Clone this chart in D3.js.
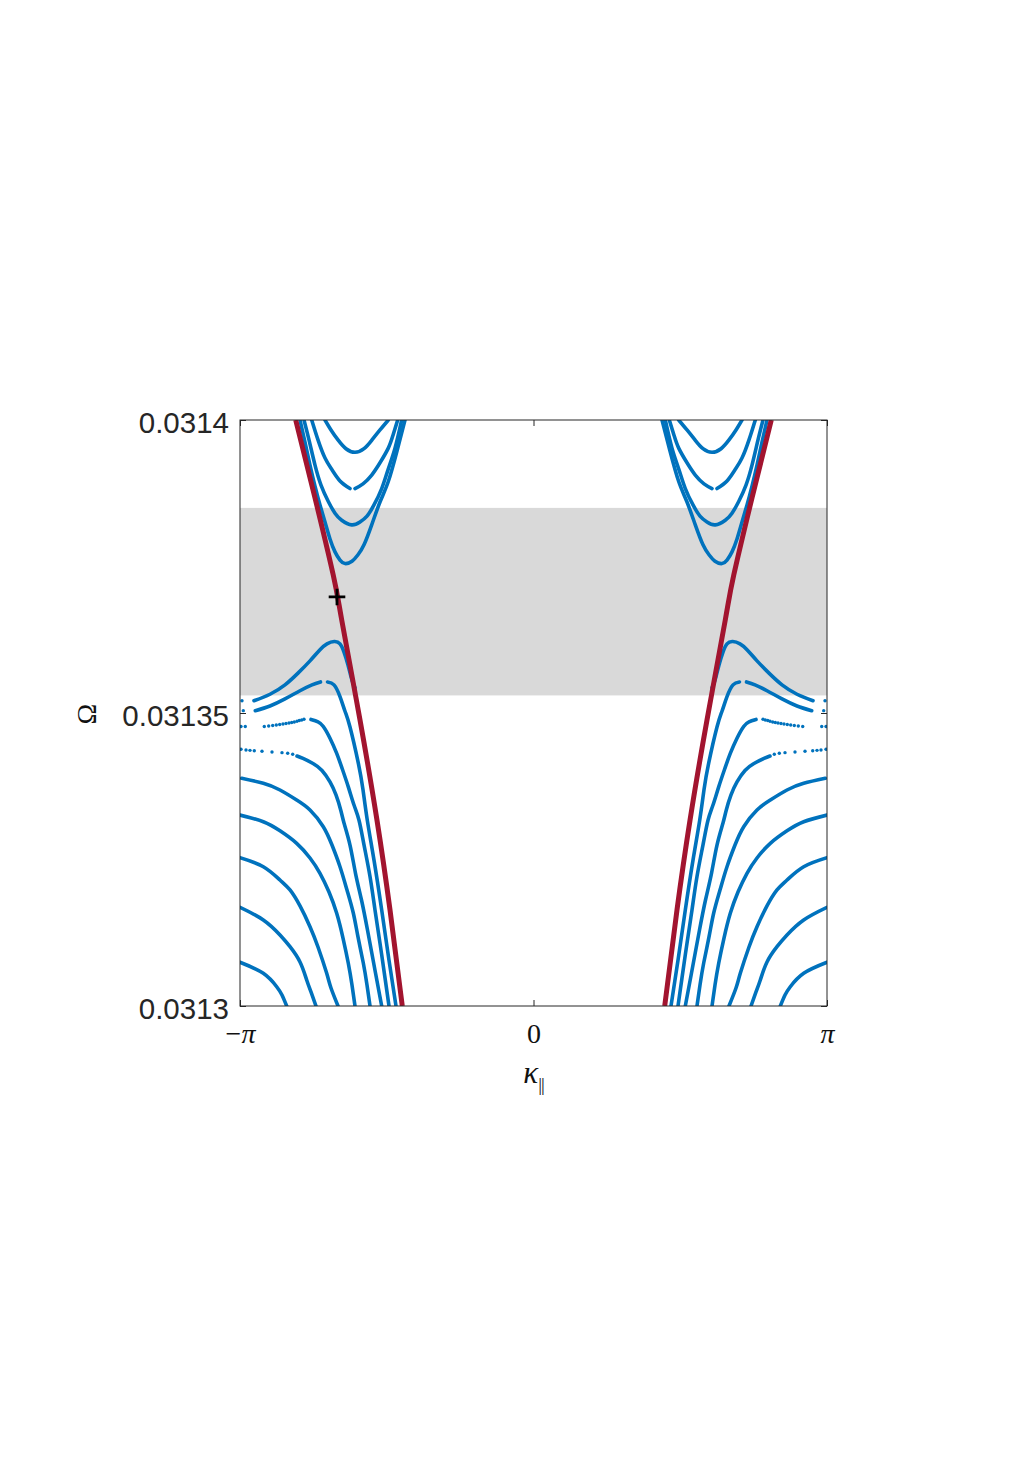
<!DOCTYPE html>
<html>
<head>
<meta charset="utf-8">
<script src="https://cdn.jsdelivr.net/npm/d3@7"></script>
<style>
  html, body { margin: 0; padding: 0; background: #ffffff; }
</style>
</head>
<body>
<svg id="chart" width="1033" height="1462"></svg>
<script>
// ---------------- DATA (κ in rad, Ω dimensionless) ----------------
// Left half (κ < 0) of the spectrum; the right half is its mirror image κ → −κ.
const kappaTicks = [-Math.PI, 0, Math.PI];
const kappaTickLabels = ["−π", "0", "π"];
const omegaTicks = [0.0313, 0.03135, 0.0314];
const omegaTickLabels = ["0.0313", "0.03135", "0.0314"];
const kappaDomain = [-Math.PI, Math.PI];
const omegaDomain = [0.0313, 0.0314];

// Shaded band gap [lower, upper]
const bandGap = [0.0313530, 0.0313850];

// Marker "+"
const markerPoint = [-2.1033, 0.0313698];

// Edge-state branch (red)
const edgeBranch = [
  [-2.5454, 0.0314000], [-2.3388, 0.0313867], [-2.1430, 0.0313735], [-2.0530, 0.0313659],
  [-1.8571, 0.0313488], [-1.6752, 0.0313317], [-1.5360, 0.0313164], [-1.4044, 0.0313000]
];

// Upper bulk bands (U shaped), each a list of continuous segments
const upperBand1 = [[
  [-2.2318, 0.0314000], [-2.1676, 0.0313983], [-2.0927, 0.0313966], [-2.0070, 0.0313951],
  [-1.9107, 0.0313945], [-1.8143, 0.0313951], [-1.7287, 0.0313966], [-1.6431, 0.0313983],
  [-1.5542, 0.0314000]
]];
const upperBand2 = [[
  [-2.3742, 0.0314000], [-2.3067, 0.0313966], [-2.2318, 0.0313935], [-2.1568, 0.0313915],
  [-2.0712, 0.0313896], [-1.9642, 0.0313883]
], [
  [-1.9107, 0.0313883], [-1.8250, 0.0313891], [-1.7319, 0.0313906], [-1.6431, 0.0313927],
  [-1.5542, 0.0313952], [-1.5039, 0.0313974], [-1.4536, 0.0314000]
]];
const upperBand3 = [[
  [-2.4566, 0.0314000], [-2.4031, 0.0313966], [-2.3388, 0.0313923], [-2.2746, 0.0313889],
  [-2.1965, 0.0313861], [-2.1248, 0.0313841], [-2.0530, 0.0313829], [-1.9460, 0.0313821],
  [-1.8571, 0.0313826], [-1.7822, 0.0313836], [-1.7073, 0.0313855], [-1.6249, 0.0313883],
  [-1.5574, 0.0313915], [-1.4825, 0.0313952], [-1.4108, 0.0314000]
]];
const upperBand4 = [[
  [-2.4994, 0.0314000], [-2.4459, 0.0313962], [-2.3924, 0.0313923], [-2.3388, 0.0313887],
  [-2.2853, 0.0313855], [-2.2318, 0.0313826], [-2.1783, 0.0313797], [-2.1248, 0.0313775],
  [-2.0712, 0.0313761], [-2.0177, 0.0313755], [-1.9428, 0.0313759], [-1.8786, 0.0313770],
  [-1.8143, 0.0313787], [-1.7319, 0.0313821], [-1.6431, 0.0313860], [-1.5542, 0.0313895],
  [-1.4611, 0.0313947], [-1.3755, 0.0314000]
]];

// Lower bulk bands
const lowerBand1 = [[
  [-2.9918, 0.0313521], [-2.8205, 0.0313532], [-2.6600, 0.0313548], [-2.5208, 0.0313568],
  [-2.3924, 0.0313589], [-2.2853, 0.0313608], [-2.2104, 0.0313618], [-2.1322, 0.0313622],
  [-2.0712, 0.0313618], [-2.0284, 0.0313604], [-1.9856, 0.0313582], [-1.9428, 0.0313556],
  [-1.9107, 0.0313543]
]];
const lowerBand2 = [[
  [-2.9779, 0.0313504], [-2.8205, 0.0313512], [-2.6600, 0.0313524], [-2.4994, 0.0313538],
  [-2.3710, 0.0313548], [-2.2800, 0.0313553]
], [
  [-2.2050, 0.0313553], [-2.1355, 0.0313548], [-2.0712, 0.0313528], [-2.0177, 0.0313503],
  [-1.9642, 0.0313476], [-1.8746, 0.0313414], [-1.8250, 0.0313369], [-1.7790, 0.0313317],
  [-1.7073, 0.0313249], [-1.6249, 0.0313164], [-1.5467, 0.0313078], [-1.4718, 0.0313000]
]];
const lowerBand3 = [[
  [-2.3817, 0.0313489], [-2.3067, 0.0313485], [-2.2500, 0.0313477], [-2.1783, 0.0313457],
  [-2.1065, 0.0313431], [-2.0498, 0.0313406], [-1.9824, 0.0313374], [-1.9213, 0.0313343],
  [-1.8678, 0.0313317], [-1.8143, 0.0313275], [-1.7501, 0.0313221], [-1.6966, 0.0313164],
  [-1.6431, 0.0313107], [-1.5895, 0.0313048], [-1.5467, 0.0313000]
]];
const lowerBand4 = [[
  [-2.5315, 0.03134266], [-2.4673, 0.03134224], [-2.3602, 0.03134138], [-2.2639, 0.03134019],
  [-2.1783, 0.03133823], [-2.1141, 0.03133601], [-2.0637, 0.03133345], [-2.0284, 0.03133123],
  [-1.9642, 0.03132747], [-1.9053, 0.03132265], [-1.8411, 0.03131809], [-1.7769, 0.03131297],
  [-1.6912, 0.03130563], [-1.6249, 0.03130000]
]];
const lowerBand5 = [[
  [-3.1234, 0.03133886], [-2.8922, 0.03133800], [-2.7135, 0.03133686], [-2.5347, 0.03133515],
  [-2.3924, 0.03133345], [-2.2500, 0.03133060], [-2.1569, 0.03132747], [-2.0712, 0.03132377],
  [-1.9963, 0.03131980], [-1.9289, 0.03131587], [-1.8786, 0.03131178], [-1.8218, 0.03130734],
  [-1.7822, 0.03130358], [-1.7501, 0.03130000]
]];
const lowerBand6 = [[
  [-3.1416, 0.03133259], [-2.8922, 0.03133145], [-2.7135, 0.03132990], [-2.5347, 0.03132776],
  [-2.3924, 0.03132526], [-2.2853, 0.03132265], [-2.1890, 0.03131945], [-2.1065, 0.03131582],
  [-2.0391, 0.03131160], [-1.9824, 0.03130729], [-1.9428, 0.03130358], [-1.9107, 0.03130000]
]];
const lowerBand7 = [[
  [-3.1416, 0.03132531], [-2.8922, 0.03132377], [-2.7135, 0.03132150], [-2.6064, 0.03131980],
  [-2.4994, 0.03131707], [-2.3924, 0.03131353], [-2.3067, 0.03131007], [-2.2136, 0.03130558],
  [-2.1676, 0.03130307], [-2.0926, 0.03130000]
]];
const lowerBand8 = [[
  [-3.1416, 0.03131684], [-2.8922, 0.03131468], [-2.7135, 0.03131212], [-2.6064, 0.03131012],
  [-2.4994, 0.03130751], [-2.4277, 0.03130444], [-2.3817, 0.03130239], [-2.3282, 0.03130000]
]];
const lowerBand9 = [[
  [-3.1416, 0.03130746], [-2.8922, 0.03130558], [-2.7488, 0.03130329], [-2.6921, 0.03130188],
  [-2.6418, 0.03130000]
]];

// Sparsely sampled (isolated) points of the lower bands
const sparsePoints = [
  // band 1
  [-3.1202, 0.0313521],
  // band 2
  [-3.1063, 0.0313504],
  // band 3
  [-3.1309, 0.0313477], [-3.0849, 0.0313477],
  [-2.8815, 0.03134770], [-2.8344, 0.03134778], [-2.7916, 0.03134787], [-2.7531, 0.03134795],
  [-2.7167, 0.03134804], [-2.6814, 0.03134812], [-2.6492, 0.03134821], [-2.6171, 0.03134829],
  [-2.5883, 0.03134838], [-2.5604, 0.03134846], [-2.5315, 0.03134860], [-2.5069, 0.03134872],
  [-2.4812, 0.03134881], [-2.4566, 0.03134893],
  // band 4
  [-3.1309, 0.03134381], [-3.0774, 0.03134369], [-3.0346, 0.03134363], [-2.9886, 0.03134357],
  [-2.9062, 0.03134346], [-2.7991, 0.03134334], [-2.6921, 0.03134323], [-2.6311, 0.03134312],
  [-2.5775, 0.03134295]
];

// ---------------- DRAWING ----------------
const plot = { left: 240, right: 827, top: 420, bottom: 1006 };
const blue = "#0072BD", red = "#A2142F", axisColor = "#262626";

const svg = d3.select("#chart");
const x = d3.scaleLinear().domain(kappaDomain).range([plot.left, plot.right]);
const y = d3.scaleLinear().domain(omegaDomain).range([plot.bottom, plot.top]);

svg.append("defs").append("clipPath").attr("id", "plotClip")
  .append("rect")
  .attr("x", plot.left).attr("y", plot.top)
  .attr("width", plot.right - plot.left).attr("height", plot.bottom - plot.top);

// band gap shading
svg.append("rect")
  .attr("x", x(kappaDomain[0]))
  .attr("width", x(kappaDomain[1]) - x(kappaDomain[0]))
  .attr("y", y(bandGap[1]))
  .attr("height", y(bandGap[0]) - y(bandGap[1]))
  .attr("fill", "#d9d9d9");

const mirror = pts => pts.map(([k, w]) => [-k, w]);
const line = d3.line().x(d => x(d[0])).y(d => y(d[1])).curve(d3.curveNatural);

const gData = svg.append("g").attr("clip-path", "url(#plotClip)");

const bands = [upperBand1, upperBand2, upperBand3, upperBand4,
  lowerBand1, lowerBand2, lowerBand3, lowerBand4, lowerBand5,
  lowerBand6, lowerBand7, lowerBand8, lowerBand9];

bands.forEach(band => {
  band.forEach(seg => {
    [seg, mirror(seg)].forEach(s => {
      gData.append("path")
        .attr("d", line(s))
        .attr("fill", "none")
        .attr("stroke", blue)
        .attr("stroke-width", 3.6)
        .attr("stroke-linecap", "round")
        .attr("stroke-linejoin", "round");
    });
  });
});

gData.selectAll("circle.sparse")
  .data(sparsePoints.concat(mirror(sparsePoints)))
  .enter().append("circle")
  .attr("class", "sparse")
  .attr("cx", d => x(d[0])).attr("cy", d => y(d[1]))
  .attr("r", 1.7)
  .attr("fill", blue);

[edgeBranch, mirror(edgeBranch)].forEach(s => {
  gData.append("path")
    .attr("d", line(s))
    .attr("fill", "none")
    .attr("stroke", red)
    .attr("stroke-width", 5)
    .attr("stroke-linecap", "butt");
});

// marker +
const mx = x(markerPoint[0]), my = y(markerPoint[1]), ms = 8.3;
svg.append("path")
  .attr("d", `M${mx - ms},${my}H${mx + ms}M${mx},${my - ms}V${my + ms}`)
  .attr("stroke", "#000").attr("stroke-width", 2.8).attr("fill", "none");

// axes (ticks inside, box)
const tickLen = 6;
const axB = svg.append("g").attr("transform", `translate(0,${plot.bottom})`)
  .call(d3.axisBottom(x).tickValues(kappaTicks).tickSizeInner(-tickLen).tickSizeOuter(0)
    .tickFormat((d, i) => kappaTickLabels[i]));
const axT = svg.append("g").attr("transform", `translate(0,${plot.top})`)
  .call(d3.axisTop(x).tickValues(kappaTicks).tickSizeInner(-tickLen).tickSizeOuter(0).tickFormat(""));
const axL = svg.append("g").attr("transform", `translate(${plot.left},0)`)
  .call(d3.axisLeft(y).tickValues(omegaTicks).tickSizeInner(-tickLen).tickSizeOuter(0).tickPadding(11)
    .tickFormat((d, i) => omegaTickLabels[i]));
const axR = svg.append("g").attr("transform", `translate(${plot.right},0)`)
  .call(d3.axisRight(y).tickValues(omegaTicks).tickSizeInner(-tickLen).tickSizeOuter(0).tickFormat(""));

[axB, axT, axL, axR].forEach(a => {
  a.select(".domain").remove();
  a.selectAll(".tick line").attr("stroke", axisColor).attr("stroke-width", 1);
});

axL.selectAll(".tick text")
  .attr("fill", axisColor)
  .attr("font-family", "'Liberation Sans', Arial, Helvetica, sans-serif")
  .attr("font-size", 29.5)
  .attr("dy", "0.42em");

axB.selectAll(".tick text")
  .attr("fill", "#111")
  .attr("font-family", "'Liberation Serif', 'Times New Roman', serif")
  .attr("font-size", 28)
  .attr("y", 37)
  .attr("dy", 0)
  .each(function (d, i) {
    const t = d3.select(this);
    const lab = kappaTickLabels[i];
    t.text(null);
    if (lab.includes("π")) {
      const pre = lab.replace("π", "");
      if (pre) t.append("tspan").text(pre);
      t.append("tspan").attr("font-style", "italic").text("π");
    } else {
      t.text(lab);
    }
  });

// box
svg.append("rect")
  .attr("x", plot.left).attr("y", plot.top)
  .attr("width", plot.right - plot.left).attr("height", plot.bottom - plot.top)
  .attr("fill", "none").attr("stroke", axisColor).attr("stroke-width", 1);

// axis labels
const xl = svg.append("text")
  .attr("x", (plot.left + plot.right) / 2).attr("y", 1083)
  .attr("text-anchor", "middle")
  .attr("font-family", "'Liberation Serif', 'Times New Roman', serif")
  .attr("fill", "#111");
xl.append("tspan").attr("font-style", "italic").attr("font-size", 31).text("κ");
xl.append("tspan").attr("font-size", 19).attr("dy", 8).attr("letter-spacing", -1).text("||");

svg.append("text")
  .attr("transform", `translate(96,${(plot.top + plot.bottom) / 2 + 1}) rotate(-90)`)
  .attr("text-anchor", "middle")
  .attr("font-family", "'Liberation Serif', 'Times New Roman', serif")
  .attr("font-size", 28)
  .attr("fill", "#111")
  .text("Ω");
</script>
</body>
</html>
